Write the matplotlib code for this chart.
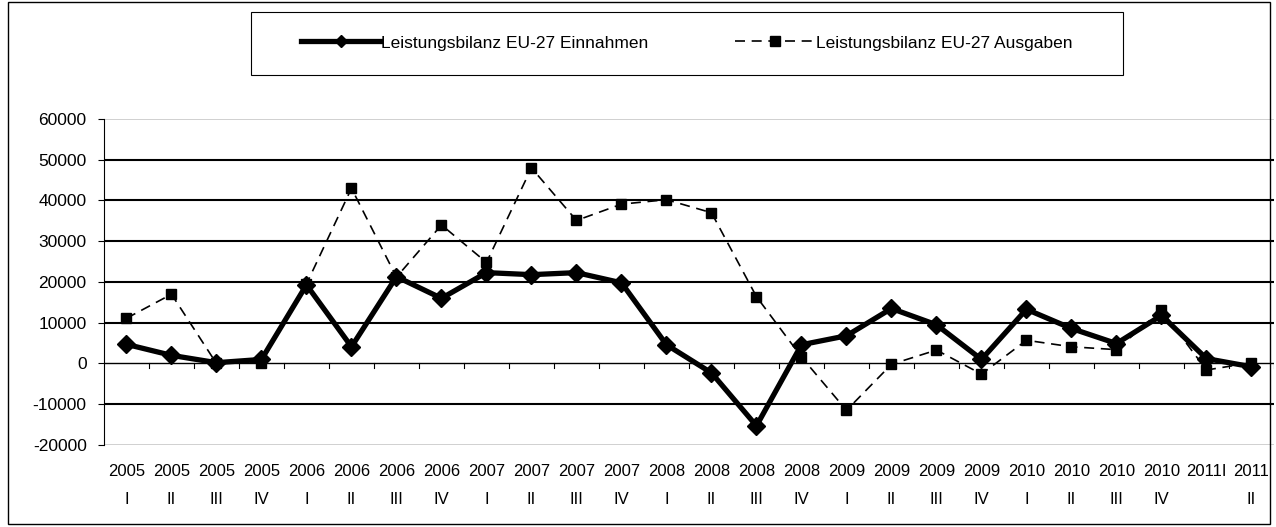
import matplotlib
matplotlib.use('Agg')
import matplotlib.pyplot as plt
from matplotlib.patches import Rectangle
from matplotlib.lines import Line2D

plt.rcParams['font.family'] = ['Liberation Sans', 'DejaVu Sans']

years = ['2005', '2005', '2005', '2005', '2006', '2006', '2006', '2006',
         '2007', '2007', '2007', '2007', '2008', '2008', '2008', '2008',
         '2009', '2009', '2009', '2009', '2010', '2010', '2010', '2010',
         '2011I', '2011']
quarters = ['I', 'II', 'III', 'IV', 'I', 'II', 'III', 'IV',
            'I', 'II', 'III', 'IV', 'I', 'II', 'III', 'IV',
            'I', 'II', 'III', 'IV', 'I', 'II', 'III', 'IV',
            '', 'II']

einnahmen = [4700, 2000, 200, 1000, 19300, 4100, 21300, 16000,
             22300, 21800, 22300, 19800, 4600, -2300, -15300, 4600,
             6800, 13500, 9500, 1000, 13300, 8600, 4900, 11800,
             1200, -800]
ausgaben = [11100, 17000, 0, 200, 19500, 43000, 21200, 34000,
            24800, 48000, 35100, 39100, 40200, 37000, 16400, 1600,
            -11500, -200, 3300, -2600, 5700, 4100, 3400, 13100,
            -1600, 200]

yticks = [-20000, -10000, 0, 10000, 20000, 30000, 40000, 50000, 60000]

fs = 12.5

fig = plt.figure(figsize=[12.76, 5.27], dpi=100)
ax = fig.add_axes([0.0815, 0.1556, 0.9169, 0.6186])

x = list(range(len(years)))

# gridlines
for v in yticks:
    if v in (-20000, 60000):
        ax.axhline(v, color='#c8c8c8', linewidth=1.2, zorder=1)
    elif v != 0:
        ax.axhline(v, color='black', linewidth=1.5, zorder=1)

ax.plot(x, ausgaben, color='black', linewidth=1.2, linestyle=(0, (6, 4)),
        marker='s', markersize=7.5, zorder=3, label='Leistungsbilanz EU-27 Ausgaben')
ax.plot(x, einnahmen, color='black', linewidth=3.8, linestyle='-',
        marker='D', markersize=9, zorder=4, label='Leistungsbilanz EU-27 Einnahmen')

ax.set_xlim(-0.5, len(years) - 0.5)
ax.set_ylim(-20000, 60000)
ax.set_yticks(yticks)
ax.set_yticklabels([str(v) for v in yticks], fontsize=fs)
ax.tick_params(axis='y', direction='out', length=4.5, width=0.8, pad=8)

# category axis at zero with separator ticks
ax.axhline(0, color='black', linewidth=1.0, zorder=2)
for i in range(1, len(years) + 1):
    ax.plot([i - 0.5, i - 0.5], [0, -1200], color='black', linewidth=0.8, zorder=2)

ax.set_xticks([])
for i in x:
    ax.text(i, -24600, years[i], ha='center', va='top', fontsize=12)
    ax.text(i, -31500, quarters[i], ha='center', va='top', fontsize=12)

for s in ['top', 'right', 'bottom']:
    ax.spines[s].set_visible(False)
ax.spines['left'].set_color('black')
ax.spines['left'].set_linewidth(0.8)

# legend box
fig.patches.append(Rectangle((251 / 1276, 1 - 75 / 527), 872 / 1276, 63 / 527,
                             transform=fig.transFigure, fill=False,
                             edgecolor='black', linewidth=0.8))
h1 = Line2D([], [], color='black', linewidth=3.8, marker='D', markersize=6)
h2 = Line2D([], [], color='black', linewidth=1.2, linestyle=(0, (6, 4)),
            marker='s', markersize=7)
fig.legend(handles=[h1, h2],
           labels=['Leistungsbilanz EU-27 Einnahmen', 'Leistungsbilanz EU-27 Ausgaben'],
           loc='center left', bbox_to_anchor=(285 / 1276, 1 - 43 / 527), ncol=2,
           frameon=False, fontsize=fs, handlelength=4.6, handletextpad=0.05,
           columnspacing=5.0)

# outer frame
fig.patches.append(Rectangle((8 / 1276, 3 / 527), 1262 / 1276, 522 / 527,
                             transform=fig.transFigure, fill=False,
                             edgecolor='black', linewidth=1.0))

plt.savefig('out.png', dpi=100)
